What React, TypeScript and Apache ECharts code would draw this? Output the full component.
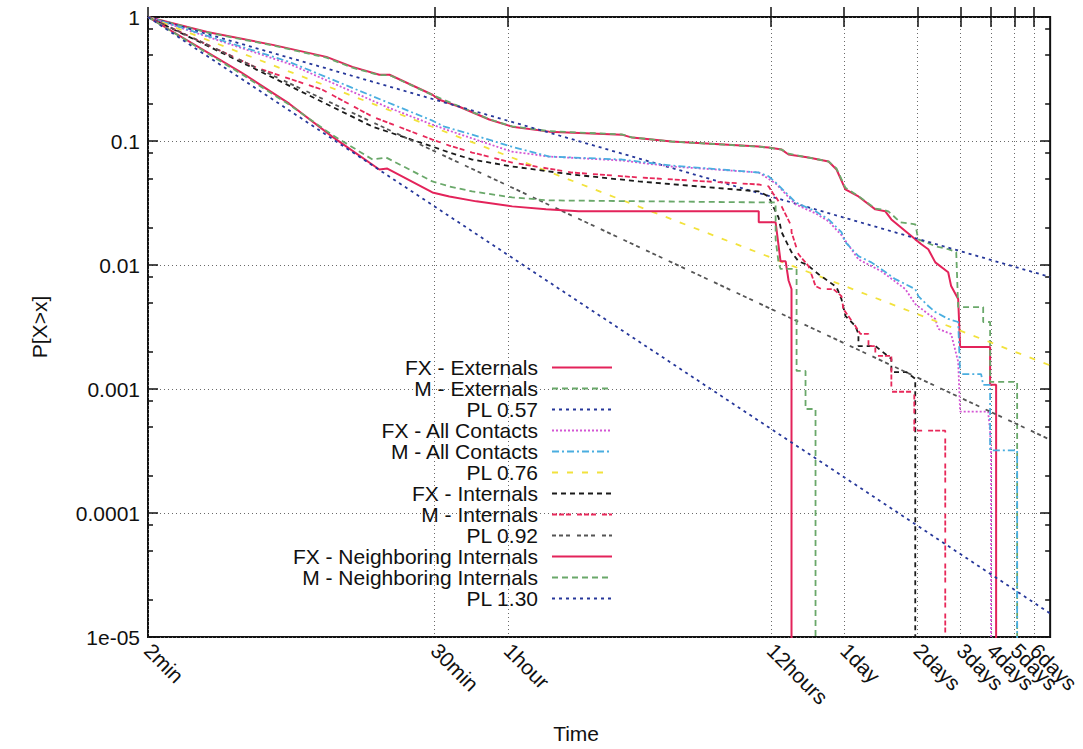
import { useEffect, useRef } from "react";
import * as echarts from "echarts";

// ---- axis definitions (time in minutes, probability P[X>x]) ----
const X_MIN = 2;
const X_MAX = 10080;
const TICK_MINUTES = [2, 30, 60, 720, 1440, 2880, 4320, 5760, 7200, 8640];
const TICK_LABELS = ["2min", "30min", "1hour", "12hours", "1day", "2days", "3days", "4days", "5days", "6days"];
const Y_DECADES = [1e-5, 1e-4, 1e-3, 1e-2, 1e-1, 1];
const Y_LABELS = ["1e-05", "0.0001", "0.001", "0.01", "0.1", "1"];
const Y_MINOR_FACTORS = [0.2, 0.5, 0.8];
const ZERO = 1e-6; // curve drops to zero (below the axis floor)

type Pt = [number, number];

// ---- series values [minutes, P] ----
const fxExternals: Pt[] = [
  [2, 1], [3.5, 0.757], [6.5, 0.596], [10.8, 0.477], [13.8, 0.396], [17.8, 0.342], [19.6, 0.342],
  [29.4, 0.236], [31.4, 0.215], [37.9, 0.189], [50.3, 0.149], [62.5, 0.1305], [88.6, 0.119],
  [176, 0.1125], [194, 0.1065], [282, 0.0989], [642, 0.0902], [705, 0.0885], [797, 0.0853],
  [851, 0.0778], [1028, 0.0735], [1242, 0.0683], [1339, 0.0589], [1456, 0.0407], [1647, 0.0357],
  [1932, 0.0281], [2124, 0.0271], [2248, 0.0233], [2818, 0.0161], [2985, 0.0147], [3186, 0.0134],
  [3405, 0.0105], [3846, 0.00875], [3955, 0.00676], [4227, 0.00531], [4306, 0.00218],
  [5716, 0.00218], [5716, 0.00108], [6050, 0.00108], [6050, ZERO],
];
const mExternals: Pt[] = [
  [2, 1], [3.5, 0.75], [6.5, 0.59], [10.8, 0.47], [13.8, 0.39], [17.8, 0.34], [19.6, 0.34],
  [29.4, 0.235], [37.9, 0.19], [50.3, 0.15], [62.5, 0.131], [88.6, 0.12], [176, 0.113],
  [194, 0.107], [282, 0.099], [642, 0.09], [705, 0.0885], [797, 0.0853], [851, 0.079],
  [1028, 0.0735], [1242, 0.0683], [1339, 0.06], [1456, 0.042], [1647, 0.036], [1932, 0.0285],
  [2046, 0.0281], [2186, 0.0271], [2448, 0.0221], [2818, 0.0213], [2900, 0.0161], [3405, 0.0142],
  [3846, 0.0134], [4150, 0.0127], [4227, 0.00458], [5354, 0.00458], [5354, 0.00347],
  [5716, 0.00347], [5716, 0.00114], [7380, 0.00114], [7380, ZERO],
];
const pl057: Pt[] = [[2, 1], [10080, 0.008]];
const fxAllContacts: Pt[] = [
  [2, 1], [7.6, 0.419], [19, 0.189], [29.4, 0.1355], [34.5, 0.121], [62, 0.0822], [88.6, 0.0749],
  [176, 0.0696], [282, 0.0623], [642, 0.0557], [753, 0.0455], [909, 0.0308], [1098, 0.0261],
  [1242, 0.0225], [1403, 0.0174], [1647, 0.0111], [2046, 0.0089], [2565, 0.00639], [2818, 0.00484],
  [3186, 0.00402], [3405, 0.00367], [3500, 0.00305], [3955, 0.00278], [4227, 0.00166],
  [4306, 0.000656], [5611, 0.000656], [5716, 0.000453], [5768, 0.0003], [5768, ZERO],
];
const mAllContacts: Pt[] = [
  [2, 1], [7.6, 0.4346], [19, 0.207], [29.4, 0.146], [32.9, 0.1305], [42.8, 0.1125], [62, 0.0902],
  [88.6, 0.0749], [176, 0.0709], [282, 0.0634], [642, 0.0557], [705, 0.0518], [753, 0.0463],
  [909, 0.032], [1098, 0.0271], [1242, 0.0233], [1403, 0.0184], [1456, 0.0153], [1647, 0.0118],
  [1862, 0.0105], [2046, 0.00925], [2334, 0.00769], [2565, 0.00701], [2818, 0.00639],
  [2900, 0.00561], [3186, 0.00467], [3405, 0.00418], [3846, 0.00367], [4227, 0.00347],
  [4306, 0.00132], [5250, 0.00132], [5354, 0.00108], [5716, 0.00108], [5716, 0.00032],
  [7380, 0.00032], [7380, ZERO],
];
const pl076: Pt[] = [[2, 1], [10080, 0.00155]];
const fxInternals: Pt[] = [
  [2, 1], [5.6, 0.375], [16.7, 0.1305], [29.4, 0.0902], [34.5, 0.0807], [42.8, 0.0709],
  [62.5, 0.0623], [110, 0.0537], [207, 0.0472], [642, 0.0392], [705, 0.0357], [739, 0.0292],
  [774, 0.0242], [797, 0.0184], [875, 0.0127], [935, 0.0107], [1009, 0.0101], [1130, 0.00843],
  [1339, 0.00663], [1403, 0.00531], [1456, 0.00388], [1600, 0.00322], [1647, 0.00278],
  [1647, 0.00222], [1932, 0.00222], [2046, 0.00203], [2248, 0.00175], [2248, 0.00137],
  [2588, 0.00137], [2818, 0.00121], [2818, ZERO],
];
const mInternals: Pt[] = [
  [2, 1], [5.6, 0.389], [10.4, 0.259], [16.7, 0.157], [29.4, 0.1026], [34.5, 0.0918],
  [42.8, 0.0807], [62.5, 0.067], [110, 0.0557], [207, 0.0508], [642, 0.0446], [705, 0.043],
  [739, 0.0371], [753, 0.0357], [797, 0.0297], [875, 0.0205], [875, 0.0184], [935, 0.0122],
  [1028, 0.0098], [1098, 0.00676], [1162, 0.00639], [1301, 0.00639], [1403, 0.00561],
  [1429, 0.00441], [1600, 0.00322], [1679, 0.00278], [1811, 0.00278], [1811, 0.00222],
  [1932, 0.00222], [1932, 0.00185], [2248, 0.00185], [2248, 0.00095], [2792, 0.00095],
  [2792, 0.000461], [3741, 0.000461], [3741, ZERO],
];
const pl092: Pt[] = [[2, 1], [10080, 0.00039]];
const fxNeighboring: Pt[] = [
  [2, 1], [4.8, 0.36], [7.6, 0.2], [11.4, 0.1085], [17.8, 0.0589], [19.2, 0.06], [29.4, 0.0385],
  [34.5, 0.0357], [44.5, 0.0326], [62.5, 0.0297], [86, 0.0281], [117, 0.0271], [642, 0.0271],
  [642, 0.0221], [753, 0.0221], [789, 0.0107], [828, 0.0107], [851, 0.0075], [875, 0.0064],
  [875, ZERO],
];
const mNeighboring: Pt[] = [
  [2, 1], [4.8, 0.35], [7.6, 0.196], [11.4, 0.112], [16.7, 0.0709], [19, 0.0735], [29.4, 0.0472],
  [34.5, 0.043], [42.8, 0.0392], [62.5, 0.0351], [88.6, 0.0332], [642, 0.032], [753, 0.032],
  [753, 0.0161], [774, 0.0105], [789, 0.0093], [918, 0.0093], [918, 0.0014], [999, 0.0014],
  [999, 0.00069], [1098, 0.00069], [1098, ZERO],
];
const pl130: Pt[] = [[2, 1], [10080, 1.55e-5]];

const SERIES_NAMES = [
  "FX - Externals", "M - Externals", "PL 0.57",
  "FX - All Contacts", "M - All Contacts", "PL 0.76",
  "FX - Internals", "M - Internals", "PL 0.92",
  "FX - Neighboring Internals", "M - Neighboring Internals", "PL 1.30",
];
const SERIES_DATA = [
  fxExternals, mExternals, pl057,
  fxAllContacts, mAllContacts, pl076,
  fxInternals, mInternals, pl092,
  fxNeighboring, mNeighboring, pl130,
];
const SERIES_COLORS = [
  "#e3235a", "#6aa86a", "#26379a",
  "#d456d4", "#4aaee0", "#f2e23c",
  "#1a1a1a", "#e8285a", "#555555",
  "#e3235a", "#6aa86a", "#26379a",
];
const SERIES_DASH: (string | number[])[] = [
  "solid", [6, 4], [3, 4],
  [2, 2], [7, 3, 2, 3], [6, 9],
  [5, 4], [5, 2, 5, 2, 5, 6], [4, 3, 4, 3, 4, 7],
  "solid", [6, 4], [3, 4],
];

const lg = (v: number) => Math.log10(v);
const FONT = "Liberation Sans";
const FS = 21;
// the crowded multi-day labels each sit on their own (otherwise invisible) axis
const CROWDED_FROM = 6;

export default function App() {
  const ref = useRef<HTMLDivElement>(null);
  useEffect(() => {
    if (!ref.current) return;
    const chart = echarts.init(ref.current, undefined, { renderer: "svg" });
    const xTicks = TICK_MINUTES.map(lg);
    const yMinor: number[] = [];
    Y_DECADES.slice(0, -1).forEach((d) => Y_MINOR_FACTORS.forEach((f) => yMinor.push(lg(d * 10 * f))));
    const xFormatter = (v: number) => {
      const i = xTicks.findIndex((t) => Math.abs(t - v) < 1e-6);
      return i >= 0 ? TICK_LABELS[i] : "";
    };
    const yFormatter = (v: number) => {
      const i = Y_DECADES.findIndex((d) => Math.abs(lg(d) - v) < 1e-6);
      return i >= 0 ? Y_LABELS[i] : "";
    };
    const txt = { fontFamily: FONT, fontSize: FS, color: "#111" };
    const gridLine = { show: true, lineStyle: { color: "#6a6a6a", width: 1, type: [1, 3] } };
    const tickStyle = { color: "#111", width: 1.5 };
    const xBase = { type: "value", min: lg(X_MIN), max: lg(X_MAX), axisLine: { show: false } };
    const yBase = { type: "value", min: -5, max: 0, axisLine: { show: false } };
    const labelBase = { ...txt, rotate: -45, margin: 10, formatter: xFormatter, showMinLabel: true, showMaxLabel: true };
    const extraXAxes = xTicks.slice(CROWDED_FROM).map((t) => ({
      ...xBase,
      position: "bottom",
      axisTick: { show: false },
      axisLabel: { ...labelBase, customValues: [t] },
      splitLine: { show: false },
    }));
    chart.setOption({
      animation: false,
      backgroundColor: "#fff",
      textStyle: txt,
      grid: { left: 148, right: 31, top: 17, bottom: 110, show: true, borderColor: "#111", borderWidth: 2 },
      legend: {
        orient: "vertical",
        right: 470,
        top: 357,
        padding: 0,
        align: "right",
        itemGap: 0,
        itemWidth: 60,
        itemHeight: 10,
        itemStyle: { opacity: 0, color: "transparent", borderWidth: 0 },
        textStyle: { ...txt, lineHeight: 21, padding: [0, 9, 0, 0] },
        data: SERIES_NAMES,
      },
      xAxis: [
        {
          ...xBase,
          position: "bottom",
          name: "Time",
          nameLocation: "middle",
          nameGap: 86,
          nameTextStyle: { ...txt, padding: [0, 46, 0, 0] },
          axisTick: { show: true, inside: true, length: 10, customValues: xTicks, lineStyle: tickStyle },
          axisLabel: { ...labelBase, customValues: xTicks.slice(0, CROWDED_FROM) },
          splitLine: gridLine,
        },
        {
          ...xBase,
          position: "top",
          axisTick: { show: true, inside: true, length: 10, customValues: xTicks, lineStyle: tickStyle },
          axisLabel: { show: false },
          splitLine: { show: false },
        },
        ...extraXAxes,
      ],
      yAxis: [
        {
          ...yBase,
          position: "left",
          interval: 1,
          name: "P[X>x]",
          nameLocation: "middle",
          nameRotate: 90,
          nameGap: 98,
          nameTextStyle: txt,
          axisTick: { show: true, inside: true, length: 10, lineStyle: tickStyle },
          axisLabel: { ...txt, margin: 8, formatter: yFormatter, showMinLabel: true, showMaxLabel: true },
          splitLine: gridLine,
        },
        {
          ...yBase,
          position: "left",
          axisTick: { show: true, inside: true, length: 5, customValues: yMinor, lineStyle: tickStyle },
          axisLabel: { show: false },
          splitLine: { show: false },
        },
        {
          ...yBase,
          position: "right",
          interval: 1,
          axisTick: { show: true, inside: true, length: 10, lineStyle: tickStyle },
          axisLabel: { show: false },
          splitLine: { show: false },
        },
        {
          ...yBase,
          position: "right",
          axisTick: { show: true, inside: true, length: 5, customValues: yMinor, lineStyle: tickStyle },
          axisLabel: { show: false },
          splitLine: { show: false },
        },
      ],
      series: SERIES_NAMES.map((name, i) => ({
        name,
        type: "line",
        xAxisIndex: 0,
        yAxisIndex: 0,
        symbol: "none",
        clip: true,
        color: SERIES_COLORS[i],
        lineStyle: { color: SERIES_COLORS[i], width: SERIES_DASH[i] === "solid" ? 2 : 1.8, type: SERIES_DASH[i] },
        data: SERIES_DATA[i].map(([m, p]) => [lg(m), lg(p)]),
      })),
    });
    return () => chart.dispose();
  }, []);
  return <div ref={ref} style={{ position: "absolute", left: 0, top: 0, width: 1083, height: 749 }} />;
}
